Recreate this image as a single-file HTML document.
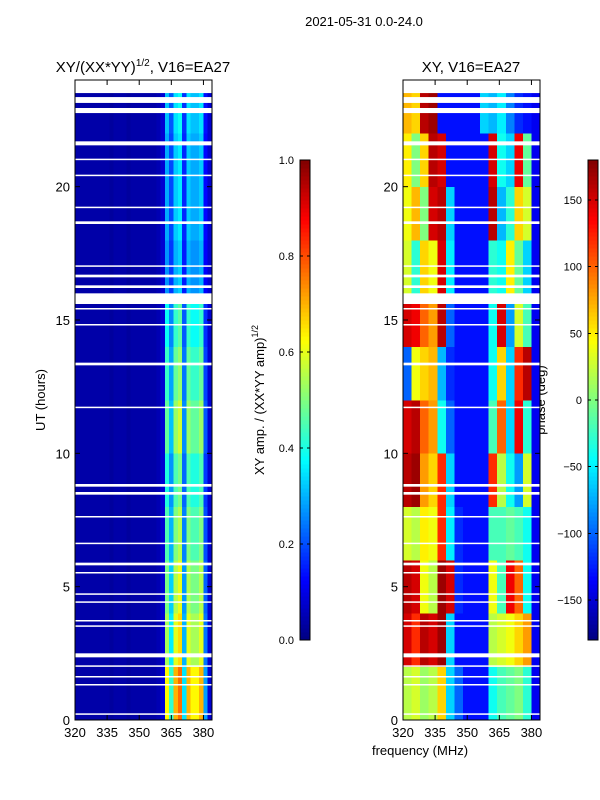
<!DOCTYPE html>
<html><head><meta charset="utf-8">
<style>
body{margin:0;background:#fff;}
svg{display:block;font-family:"Liberation Sans",sans-serif;}
</style></head>
<body>
<svg id="fig" width="600" height="800" viewBox="0 0 600 800" xmlns="http://www.w3.org/2000/svg">
<rect width="600" height="800" fill="#fff"/>
<text x="364" y="26" font-size="13" text-anchor="middle">2021-05-31 0.0-24.0</text>
<text x="143" y="72" font-size="15" text-anchor="middle">XY/(XX*YY)<tspan font-size="10" dy="-6">1/2</tspan><tspan dy="6">, V16=EA27</tspan></text>
<text x="471" y="72" font-size="15" text-anchor="middle">XY, V16=EA27</text>
<text transform="translate(45,400) rotate(-90)" font-size="13" text-anchor="middle">UT (hours)</text>
<text x="420" y="755" font-size="13" text-anchor="middle">frequency (MHz)</text>
<text transform="translate(264,400) rotate(-90)" font-size="13" text-anchor="middle">XY amp. / (XX*YY amp)<tspan font-size="9" dy="-6">1/2</tspan></text>
<text transform="translate(545,400) rotate(-90)" font-size="13" text-anchor="middle">phase (deg)</text>
<g id="layer"></g>
</svg>
<script>
// ---- data ----
const freqEdges = [320, 384];
const hourRange = [0, 24];
const xTicks = [320, 335, 350, 365, 380];
const yTicks = [0, 5, 10, 15, 20];
const ampTicks = [0.0, 0.2, 0.4, 0.6, 0.8, 1.0];
const phaseTicks = [-150, -100, -50, 0, 50, 100, 150];
// amplitude: 2 MHz channel profile and 2-hour time scaling
const ampChannelProfile = [0.04,0.04,0.04,0.04,0.04,0.04,0.04,0.04,0.03,0.04,0.04,0.04,0.03,0.04,0.04,0.04,0.04,0.04,0.04,0.05,0.08,0.45,0.3,0.5,0.55,0.25,0.5,0.45,0.45,0.5,0.2,0.08];
const ampTimeScale = [1.4,1.2,1.1,1.0,0.9,1.05,0.95,0.85,0.6,0.65,0.65,0.7];
// phase: 12 two-hour rows x 16 four-MHz bins (deg)
const phaseGrid = [
[20,30,10,20,60,-60,-100,-130,-130,-130,-40,-20,-10,0,-30,-140],
[150,120,160,150,170,-60,-130,-130,-130,-130,20,30,40,60,80,-140],
[160,150,40,20,170,150,-120,-130,-130,-130,40,-20,140,100,-40,-140],
[30,20,50,40,120,-50,-120,-130,-130,-130,-20,-20,-10,-20,-40,-140],
[160,170,80,60,120,-60,-130,-130,-130,-130,120,20,-40,-80,30,-140],
[150,160,100,80,-40,-100,-130,-130,-130,-130,-20,100,-60,140,-30,-140],
[-100,40,60,70,-70,-120,-130,-130,-130,-130,-40,60,-60,120,160,-140],
[150,140,100,80,160,-100,-130,-130,-130,-130,-40,150,-80,30,-20,-140],
[30,-30,60,40,150,-50,-130,-130,-130,-130,-30,-40,50,-10,-60,-140],
[40,70,0,150,160,-60,-130,-130,-130,-130,160,-70,-30,60,30,-140],
[50,0,60,160,150,-130,-130,-130,-130,-130,150,-40,-60,140,-10,-140],
[70,60,160,170,-130,-130,-130,-130,-130,-60,-70,-50,-90,-120,-130,-140]
];
// flagged (blank) time intervals in hours
const flaggedStart = [23.51,23.14,22.76,21.55,21.0,20.4,19.2,18.6,17.0,16.6,16.2,15.6,15.4,14.8,13.3,11.7,8.75,8.45,7.6,6.6,5.8,5.5,4.7,4.4,3.7,3.5,2.35,2.0,1.6,1.3,0.2];
const flaggedEnd   = [24.0,23.36,22.95,21.7,21.05,20.45,19.25,18.7,17.05,16.7,16.3,16.0,15.45,14.85,13.4,11.75,8.85,8.55,7.65,6.65,5.9,5.55,4.75,4.45,3.75,3.55,2.5,2.05,1.65,1.35,0.25];

// ---- helpers ----
const NS="http://www.w3.org/2000/svg";
const layer=document.getElementById('layer');
function mk(tag,attrs,parent){const e=document.createElementNS(NS,tag);for(const k in attrs)e.setAttribute(k,attrs[k]);(parent||layer).appendChild(e);return e;}
function jet(v){v=Math.max(0,Math.min(1,v));
 const c=x=>Math.round(255*Math.max(0,Math.min(1,x)));
 const r=c(1.5-Math.abs(4*v-3)), g=c(1.5-Math.abs(4*v-2)), b=c(1.5-Math.abs(4*v-1));
 return `rgb(${r},${g},${b})`;}
const panels=[{x0:75,x1:212,name:'amp'},{x0:403,x1:540,name:'phase'}];
const yTop=80,yBot=720;
function yOf(h){return yBot-(h-hourRange[0])/(hourRange[1]-hourRange[0])*(yBot-yTop);}
function xOf(p,f){return p.x0+(f-freqEdges[0])/(freqEdges[1]-freqEdges[0])*(p.x1-p.x0);}

// amplitude panel
{const p=panels[0];
 const g=mk('g',{'shape-rendering':'crispEdges'});
 
 
 const nC=ampChannelProfile.length, nR=ampTimeScale.length;
 const df=(freqEdges[1]-freqEdges[0])/nC, dh=(hourRange[1]-hourRange[0])/nR;
 for(let r=0;r<nR;r++)for(let c=0;c<nC;c++){
  const base=ampChannelProfile[c];
  const v=base>0.15?base*ampTimeScale[r]:base;
  const x=xOf(p,freqEdges[0]+c*df), x2=xOf(p,freqEdges[0]+(c+1)*df);
  const y=yOf(hourRange[0]+(r+1)*dh), y2=yOf(hourRange[0]+r*dh);
  const cell=mk('rect',{x:x,y:y,width:x2-x+0.3,height:y2-y+0.3,fill:jet(v)},g);
  
  
 }}
// phase panel
{const p=panels[1];
 const g=mk('g',{'shape-rendering':'crispEdges'});
 
 
 const nR=phaseGrid.length,nC=phaseGrid[0].length;
 const df=(freqEdges[1]-freqEdges[0])/nC, dh=(hourRange[1]-hourRange[0])/nR;
 for(let r=0;r<nR;r++)for(let c=0;c<nC;c++){
  const v=(phaseGrid[r][c]+180)/360;
  const x=xOf(p,freqEdges[0]+c*df), x2=xOf(p,freqEdges[0]+(c+1)*df);
  const y=yOf(hourRange[0]+(r+1)*dh), y2=yOf(hourRange[0]+r*dh);
  const cell=mk('rect',{x:x,y:y,width:x2-x+0.3,height:y2-y+0.3,fill:jet(v)},g);
  
  
 }}
// flagged gaps, frames, ticks
panels.forEach(p=>{
 for(let i=0;i<flaggedStart.length;i++){
  const y=yOf(flaggedEnd[i]),y2=yOf(flaggedStart[i]);
  const gp=mk('rect',{x:p.x0,y:y,width:p.x1-p.x0,height:Math.max(1.5,y2-y),fill:'#fff'});
  
  
 }
 const fr=mk('rect',{x:p.x0,y:yTop,width:p.x1-p.x0,height:yBot-yTop,fill:'none',stroke:'#000','stroke-width':1});
 
 
 xTicks.forEach(t=>{const x=xOf(p,t);
  mk('line',{x1:x,x2:x,y1:yBot,y2:yBot-5,stroke:'#000'});
  mk('line',{x1:x,x2:x,y1:yTop,y2:yTop+5,stroke:'#000'});
  const tl=mk('text',{x:x,y:yBot+17,'font-size':13,'text-anchor':'middle'});tl.textContent=t;
  
  
 });
 yTicks.forEach(t=>{const y=yOf(t);
  mk('line',{x1:p.x0,x2:p.x0+5,y1:y,y2:y,stroke:'#000'});
  mk('line',{x1:p.x1,x2:p.x1-5,y1:y,y2:y,stroke:'#000'});
  const tl=mk('text',{x:p.x0-5,y:y+5,'font-size':13,'text-anchor':'end'});tl.textContent=t;
  
  
 });
});
// colorbars
function colorbar(x,ticks,lo,hi,name,fmt){
 const g=mk('g',{'shape-rendering':'crispEdges'});
 
 
 const y0=160,y1=640,n=120;
 for(let i=0;i<n;i++){mk('rect',{x:x,y:y1-(i+1)*(y1-y0)/n,width:10,height:(y1-y0)/n+0.5,fill:jet((i+0.5)/n)},g);}
 mk('rect',{x:x,y:y0,width:10,height:y1-y0,fill:'none',stroke:'#000'},g);
 ticks.forEach(t=>{const y=y1-(t-lo)/(hi-lo)*(y1-y0);
  mk('line',{x1:x,x2:x+3,y1:y,y2:y,stroke:'#000'},g);
  mk('line',{x1:x+10,x2:x+7,y1:y,y2:y,stroke:'#000'},g);
  const tl=mk('text',{x:x-6,y:y+4,'font-size':11,'text-anchor':'end'});tl.textContent=fmt(t);
  
  
 });
}
colorbar(300,ampTicks,0,1,'amp-colorbar',t=>t.toFixed(1));
colorbar(588,phaseTicks,-180,180,'phase-colorbar',t=>t<0?'\u2212'+(-t):String(t));
</script>
</body></html>
